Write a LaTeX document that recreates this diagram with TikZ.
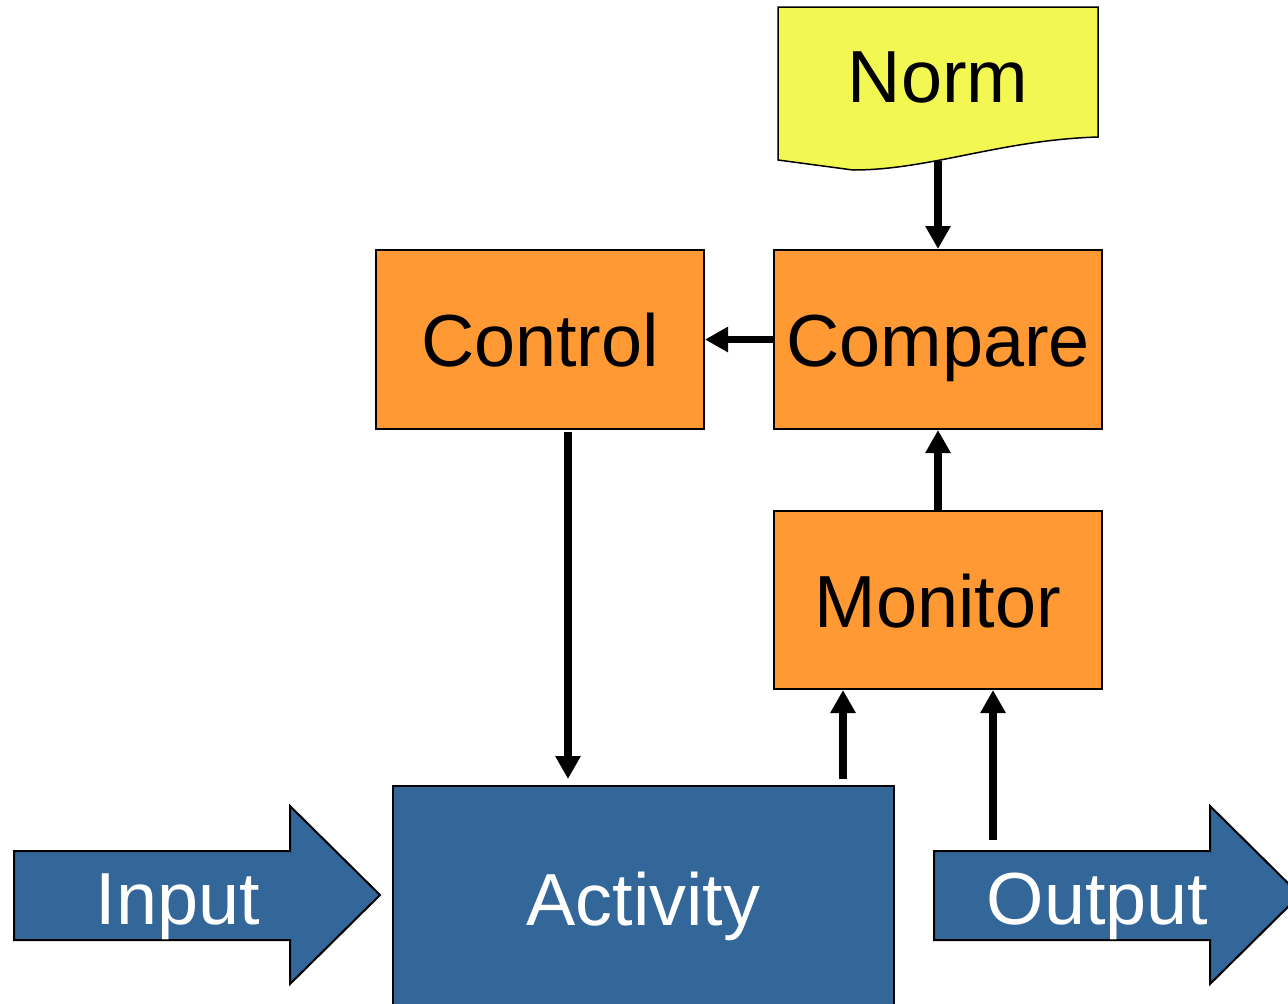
\documentclass[tikz,border=0pt]{standalone}
\usepackage{fontspec}
\setmainfont{Liberation Sans}
\usepackage{tikz}
\usetikzlibrary{arrows.meta}
\usetikzlibrary{positioning}
\definecolor{boxorange}{HTML}{FF9933}
\definecolor{normyellow}{HTML}{F2F752}
\definecolor{flowblue}{HTML}{336699}
\tikzset{bigtext/.style = {font=\fontsize{42}{50}\selectfont, text height=1.08cm, text depth=0cm}}
\tikzset{block/.style = {bigtext, draw, line width=0.04cm, fill=boxorange, inner sep=0,
                         minimum width=6.56cm, minimum height=3.58cm}}
\tikzset{flow/.style = {line width=0.15cm, -{Triangle[length=0.46cm, width=0.48cm]}}}
\tikzset{bigarrow/.style = {draw, line width=0.04cm, fill=flowblue}}

\begin{document}
\begin{tikzpicture}
    \useasboundingbox (0, 0) rectangle (25.76, -20.06);

    % norm document
    \draw [line width=0.03cm, fill=normyellow] (15.56, -0.14) -- (21.96, -0.14) -- (21.96, -2.74)
      .. controls (20.0, -2.8) and (18.6, -3.4) .. (17.06, -3.4) -- (15.56, -3.2) -- cycle;
    \node [bigtext] (norm) at (18.76, -1.5) {Norm};
    \coordinate (normtap) at (18.76, -3.22);

    \node [block] (compare) at (18.76, -6.79) {Compare};
    \node [block] (control) at (10.8, -6.79) {Control};
    \node [block, minimum height=3.56cm] (monitor) at (18.76, -12.0) {Monitor};

    \node [bigtext, draw, line width=0.04cm, fill=flowblue, text=white, inner sep=0,
           minimum width=10.02cm, minimum height=4.48cm] (activity) at (12.87, -17.96) {Activity};

    % input and output
    \draw [bigarrow] (0.28, -17.02) -- (5.8, -17.02) -- (5.8, -16.12) -- (7.6, -17.9)
      -- (5.8, -19.68) -- (5.8, -18.8) -- (0.28, -18.8) -- cycle;
    \node [bigtext, text=white] (input) at (3.56, -17.94) {Input};
    \draw [bigarrow] (18.68, -17.02) -- (24.2, -17.02) -- (24.2, -16.12) -- (26.0, -17.9)
      -- (24.2, -19.68) -- (24.2, -18.8) -- (18.68, -18.8) -- cycle;
    \node [bigtext, text=white] (output) at (21.95, -17.94) {Output};

    \coordinate (ctrltap) at (11.36, -8.64);
    \coordinate (acttap) at (16.86, -15.58);
    \coordinate (outtap) at (19.86, -16.8);

    \draw [flow] (normtap) -- (compare.north);
    \draw [flow] (compare.west) -- (control.east);
    \draw [flow] (monitor.north) -- (compare.south);
    \draw [flow, shorten >=0.12cm] (ctrltap) -- (ctrltap |- activity.north);
    \draw [flow] (acttap) -- (acttap |- monitor.south);
    \draw [flow] (outtap) -- (outtap |- monitor.south);
  \end{tikzpicture}
\end{document}
